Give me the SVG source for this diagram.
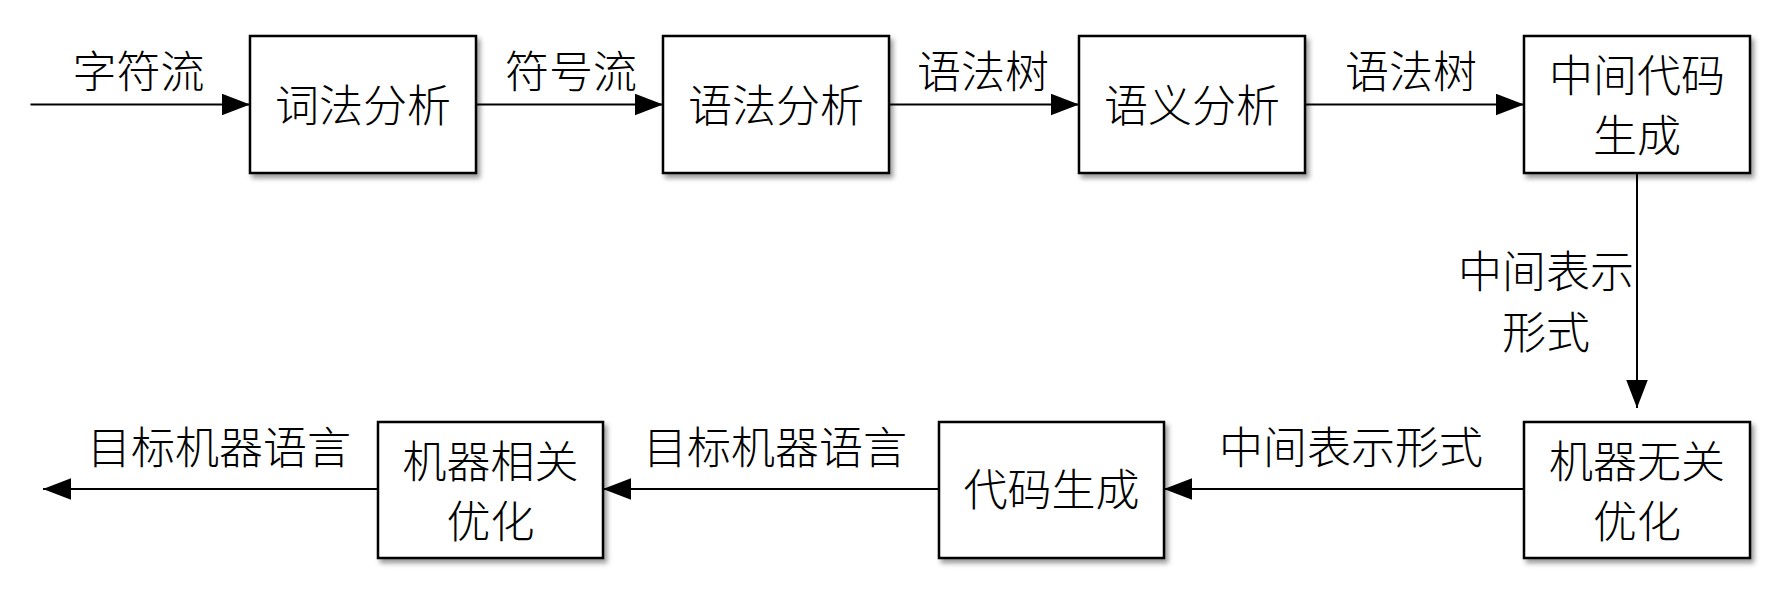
<svg xmlns="http://www.w3.org/2000/svg" width="1780" height="591" viewBox="0 0 1780 591">
<style>
.box{fill:#fff;stroke:#000;stroke-width:2.5;filter:url(#sh)}
.t{font-family:"Noto Sans CJK SC","Noto Sans",sans-serif;font-size:44px;font-weight:300;fill:#000;text-anchor:middle}
.c{fill:none;stroke:#000;stroke-width:2;marker-end:url(#ah)}
</style>
<defs>
<filter id="sh" x="-10%" y="-10%" width="130%" height="130%">
<feDropShadow dx="3" dy="4" stdDeviation="2.5" flood-color="#000" flood-opacity="0.4"/>
</filter>
<marker id="ah" markerUnits="userSpaceOnUse" markerWidth="28" markerHeight="22" viewBox="0 0 26 20" refX="26" refY="10" orient="auto">
<path d="M0 0 L26 10 L0 20 Z" fill="#000"/>
</marker>
</defs>
<g id="connectors">
<path class="c" d="M30.5 104.5 H250"/>
<path class="c" d="M476 104.5 H663"/>
<path class="c" d="M889 104.5 H1079"/>
<path class="c" d="M1305 104.5 H1524"/>
<path class="c" d="M1637 173 V408"/>
<path class="c" d="M1524 489 H1164"/>
<path class="c" d="M939 489 H603"/>
<path class="c" d="M378 489 H43"/>
<text class="t" x="138.5" y="88">字符流</text>
<text class="t" x="571" y="88">符号流</text>
<text class="t" x="983" y="88">语法树</text>
<text class="t" x="1411" y="88">语法树</text>
<text class="t" x="1546" y="288">中间表示</text>
<text class="t" x="1546" y="349">形式</text>
<text class="t" x="1351" y="464">中间表示形式</text>
<text class="t" x="775" y="464">目标机器语言</text>
<text class="t" x="219" y="464">目标机器语言</text>
</g>
<g id="lex">
<rect class="box" x="250" y="36" width="226" height="137"/>
<text class="t" x="363" y="122">词法分析</text>
</g>
<g id="syntax">
<rect class="box" x="663" y="36" width="226" height="137"/>
<text class="t" x="776" y="122">语法分析</text>
</g>
<g id="semantic">
<rect class="box" x="1079" y="36" width="226" height="137"/>
<text class="t" x="1192" y="122">语义分析</text>
</g>
<g id="icg">
<rect class="box" x="1524" y="36" width="226" height="137"/>
<text class="t" x="1637" y="92">中间代码</text>
<text class="t" x="1637" y="152">生成</text>
</g>
<g id="mio">
<rect class="box" x="1524" y="422" width="226" height="136"/>
<text class="t" x="1637" y="478">机器无关</text>
<text class="t" x="1637" y="538">优化</text>
</g>
<g id="codegen">
<rect class="box" x="939" y="422" width="225" height="136"/>
<text class="t" x="1051.5" y="506">代码生成</text>
</g>
<g id="mdo">
<rect class="box" x="378" y="422" width="225" height="136"/>
<text class="t" x="490.5" y="478">机器相关</text>
<text class="t" x="490.5" y="538">优化</text>
</g>
</svg>
